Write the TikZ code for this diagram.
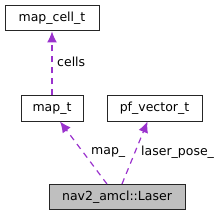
\documentclass[tikz,border=0pt]{standalone}
\usepackage{fontspec}
\setmainfont{DejaVu Sans}
\usepackage{tikz}
\usetikzlibrary{positioning,arrows.meta}
\definecolor{edgepurple}{HTML}{9A32CD}
\definecolor{laserfill}{HTML}{BFBFBF}

\begin{document}
\begin{tikzpicture}[x=1pt, y=-1pt, font=\fontsize{12.5}{14}\selectfont,
        box/.style={draw=black!85, line width=1pt, fill=white, inner sep=0pt,
                    minimum height=25pt, anchor=center},
        cur/.style={box, fill=laserfill},
        member/.style={draw=edgepurple, dashed, line width=1.2pt,
                       dash pattern=on 6pt off 5pt, -{Latex[length=11pt,width=10pt]}},
        lbl/.style={anchor=west, inner sep=0pt}]
        \useasboundingbox (0,0) rectangle (224,216);
        \node[box, minimum width=94pt] (cell) at (52,18.5) {map\_cell\_t};
        \node[box, minimum width=62pt] (map) at (52,108.5) {map\_t};
        \node[box, minimum width=95pt] (vec) at (154.5,108.5) {pf\_vector\_t};
        \node[cur, minimum width=136pt] (laser) at (117,197) {nav2\_amcl::Laser};

        \draw[member] (map.north) -- (cell.south);
        \draw[member] ([xshift=-10pt]laser.north) -- ([xshift=8pt]map.south);
        \draw[member] ([xshift=5pt]laser.north) -- ([xshift=-7pt]vec.south);

        \node[lbl] (lcells) at (57,62) {cells};
        \node[lbl] (lmap) at (91,152) {map\_};
        \node[lbl] (lpose) at (141,152) {laser\_pose\_};
    \end{tikzpicture}
\end{document}
